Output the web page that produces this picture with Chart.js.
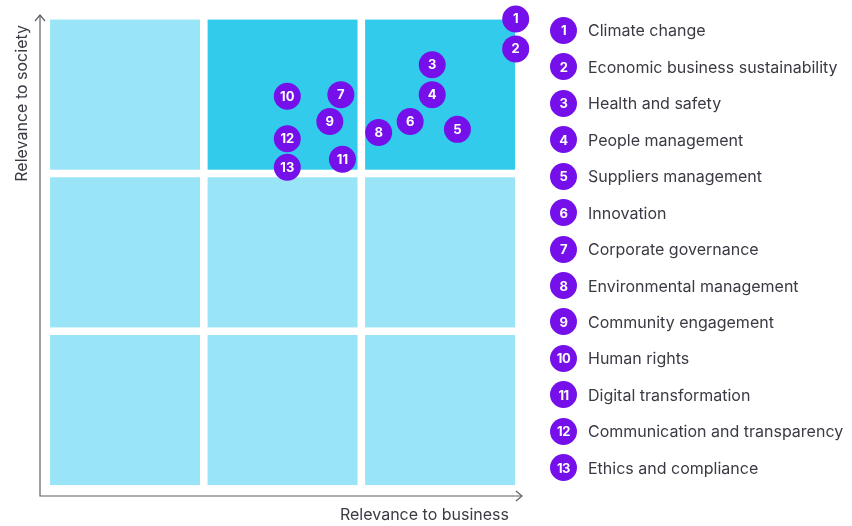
<!DOCTYPE html>
<html>
<head>
<meta charset="utf-8">
<script src="https://cdn.jsdelivr.net/npm/chart.js@4.4.1/dist/chart.umd.min.js"></script>
<style>
  html, body { margin: 0; padding: 0; background: #fff; }
  #wrap { position: relative; width: 852px; height: 526px; }
  #matrix { position: absolute; left: 0; top: 0; }
  #legend { position: absolute; left: 550px; top: 12px; font-family: Inter, sans-serif; }
  .item { display: flex; align-items: center; height: 36.47px; }
  .dot { width: 27px; height: 27px; border-radius: 50%; background: #7510ea; color: #fff;
         font-size: 13px; font-weight: 700; display: flex; align-items: center; justify-content: center;
         letter-spacing: -0.5px; }
  .name { margin-left: 11px; font-size: 16px; color: #3a3a44; letter-spacing: 0; }
</style>
</head>
<body>
<div id="wrap">
  <canvas id="matrix" width="852" height="526"></canvas>
  <div id="legend"></div>
</div>
<script>
/* Materiality matrix — relevance to business vs relevance to society */
const topicIds = [1, 2, 3, 4, 5, 6, 7, 8, 9, 10, 11, 12, 13];
const topicNames = [
  'Climate change', 'Economic business sustainability', 'Health and safety',
  'People management', 'Suppliers management', 'Innovation', 'Corporate governance',
  'Environmental management', 'Community engagement', 'Human rights',
  'Digital transformation', 'Communication and transparency', 'Ethics and compliance'
];
const businessScores = [2.98, 2.98, 2.45, 2.45, 2.61, 2.31, 1.87, 2.11, 1.80, 1.53, 1.88, 1.53, 1.53];
const societyScores  = [2.98, 2.79, 2.69, 2.50, 2.28, 2.33, 2.50, 2.26, 2.33, 2.49, 2.09, 2.22, 2.04];

// 3x3 grid, 0 = lower priority, 1 = higher priority
const cellCols = [0, 1, 2, 0, 1, 2, 0, 1, 2];
const cellRows = [0, 0, 0, 1, 1, 1, 2, 2, 2];
const cellTone = [0, 0, 0, 0, 0, 0, 0, 1, 1];

const xTitle = 'Relevance to business';
const yTitle = 'Relevance to society';

const PURPLE = '#7510ea';
const TONES = ['#99e4f6', '#33cbeb'];
const AXIS = '#5f5f66';

// legend
document.getElementById('legend').innerHTML = topicIds.map((id, i) => `
  <div class="item"><div class="dot">${id}</div><div class="name">${topicNames[i]}</div></div>
`).join('');

const matrixPlugin = {
  id: 'matrix',
  beforeDatasetsDraw(chart) {
    const { ctx, scales: { x, y }, chartArea: a } = chart;
    const g = 0.024;
    ctx.save();
    cellCols.forEach((c, i) => {
      const x0 = x.getPixelForValue(c + g), x1 = x.getPixelForValue(c + 1 - g);
      const y0 = y.getPixelForValue(cellRows[i] + 1 - g), y1 = y.getPixelForValue(cellRows[i] + g);
      ctx.fillStyle = TONES[cellTone[i]];
      ctx.fillRect(x0, y0, x1 - x0, y1 - y0);
    });

    // axes with arrow heads
    ctx.strokeStyle = AXIS;
    ctx.lineWidth = 1.2;
    ctx.beginPath();
    ctx.moveTo(a.left, a.top);
    ctx.lineTo(a.left, a.bottom);
    ctx.lineTo(a.right, a.bottom);
    ctx.stroke();
    ctx.beginPath();
    ctx.moveTo(a.left - 5, a.top + 6); ctx.lineTo(a.left, a.top); ctx.lineTo(a.left + 5, a.top + 6);
    ctx.moveTo(a.right - 6, a.bottom - 5); ctx.lineTo(a.right, a.bottom); ctx.lineTo(a.right - 6, a.bottom + 5);
    ctx.stroke();

    ctx.fillStyle = '#3a3a44';
    ctx.font = '16px Inter, sans-serif';
    ctx.textBaseline = 'middle';
    ctx.textAlign = 'right';
    ctx.fillText(xTitle, a.right - 13, a.bottom + 19);
    ctx.translate(a.left - 18, a.top + 10);
    ctx.rotate(-Math.PI / 2);
    ctx.fillText(yTitle, 0, 0);
    ctx.restore();
  },
  afterDatasetsDraw(chart) {
    const { ctx } = chart;
    const meta = chart.getDatasetMeta(0);
    ctx.save();
    ctx.fillStyle = '#fff';
    ctx.font = 'bold 13px Inter, sans-serif';
    ctx.textAlign = 'center';
    ctx.textBaseline = 'middle';
    meta.data.forEach((pt, i) => ctx.fillText(String(topicIds[i]), pt.x, pt.y + 0.5));
    ctx.restore();
  }
};

new Chart(document.getElementById('matrix'), {
  type: 'scatter',
  data: {
    datasets: [{
      data: topicIds.map((id, i) => ({ x: businessScores[i], y: societyScores[i] })),
      backgroundColor: PURPLE,
      borderWidth: 0,
      pointRadius: 13.5,
      pointHoverRadius: 13.5,
      clip: false
    }]
  },
  options: {
    responsive: false,
    animation: false,
    layout: { padding: { left: 40, top: 15, right: 330, bottom: 30 } },
    plugins: { legend: { display: false }, tooltip: { enabled: false } },
    scales: {
      x: { type: 'linear', min: -0.04, max: 3.02, display: false },
      y: { type: 'linear', min: -0.045, max: 3.005, display: false }
    }
  },
  plugins: [matrixPlugin]
});
</script>
</body>
</html>
